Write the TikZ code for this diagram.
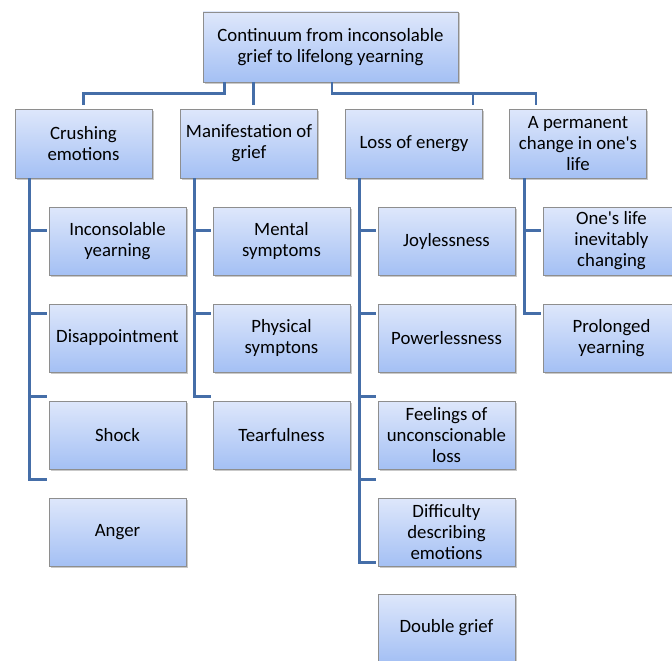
\documentclass[tikz,border=0pt]{standalone}
\usepackage{fontspec}
\setmainfont{Carlito}
\usepackage{tikz}
\usetikzlibrary{positioning,shadows}

\definecolor{boxtop}{HTML}{DEE7FB}
\definecolor{boxbottom}{HTML}{A4C0F4}
\definecolor{boxline}{HTML}{8E8E8E}
\definecolor{linkblue}{HTML}{456EA8}

\begin{document}
\begin{tikzpicture}[x=1pt, y=-1pt,
    box/.style={rectangle, draw=boxline, line width=0.8pt, top color=boxtop, bottom color=boxbottom,
      minimum width=137pt, minimum height=68pt, align=center, inner sep=2pt,
      font=\fontsize{18.8}{21}\selectfont,
      drop shadow={shadow xshift=1.5pt, shadow yshift=-1.5pt, opacity=0.3, fill=black!70}},
    link/.style={draw=linkblue, line width=2.8pt}]
          \path[use as bounding box] (0,0) rectangle (672,661);
          \clip (0,0) rectangle (672,661);

          % top
          \node[box, minimum width=255pt, minimum height=70pt] (root) at (330.5, 47) {Continuum from inconsolable\\grief to lifelong yearning};

          % first row
          \node[box, minimum height=69pt] (crush) at (83.5, 143.5) {Crushing\\emotions};
          \node[box, minimum height=69pt] (manif) at (249, 143.5) {Manifestation of\\grief};
          \node[box, minimum height=69pt] (energy) at (414, 143.5) {Loss of energy};
          \node[box, minimum height=69pt] (change) at (578, 143.5) {A permanent\\change in one\textquotesingle s\\life};

          % under crushing emotions
          \node[box] (crushA) at (117.5, 241) {Inconsolable\\yearning};
          \node[box] (crushB) at (117.5, 338) {Disappointment};
          \node[box] (crushC) at (117.5, 435) {Shock};
          \node[box] (crushD) at (117.5, 532) {Anger};

          % under manifestation of grief
          \node[box] (manifA) at (281.5, 241) {Mental\\symptoms};
          \node[box] (manifB) at (281.5, 338) {Physical\\symptons};
          \node[box] (manifC) at (281.5, 435) {Tearfulness};

          % under loss of energy
          \node[box] (energyA) at (446.5, 241) {Joylessness};
          \node[box] (energyB) at (446.5, 338) {Powerlessness};
          \node[box] (energyC) at (446.5, 435) {Feelings of\\unconscionable\\loss};
          \node[box] (energyD) at (446.5, 532) {Difficulty\\describing\\emotions};
          \node[box] (energyE) at (446.5, 628) {Double grief};

          % under a permanent change
          \node[box] (changeA) at (611.5, 241) {One\textquotesingle s life\\inevitably\\changing};
          \node[box] (changeB) at (611.5, 338) {Prolonged\\yearning};

          % from the top box
          \draw[link, shorten >=4pt] ([xshift=22pt]root.south west) -- ++(0,11) -| (crush.north);
          \draw[link, shorten >=4pt] ([xshift=51pt]root.south west) coordinate (rootm) -- (rootm |- manif.north);
          \draw[link, shorten >=4pt] ([xshift=1.5pt]root.south) -- ++(0,11) -| ([xshift=59pt]energy.north);
          \draw[link, shorten >=4pt] ([xshift=1.5pt]root.south) -- ++(0,11) -| ([xshift=-42pt]change.north);

          \draw[link, shorten >=2pt] ([xshift=15pt]crush.south west) |- ([yshift=-24pt]crushA.north west);
          \draw[link, shorten >=2pt] ([xshift=15pt]crush.south west) |- ([yshift=-10pt]crushB.north west);
          \draw[link, shorten >=2pt] ([xshift=15pt]crush.south west) |- ([yshift=4pt]crushC.north west);
          \draw[link, shorten >=2pt] ([xshift=15pt]crush.south west) |- ([yshift=18pt]crushD.north west);

          \draw[link, shorten >=2pt] ([xshift=14pt]manif.south west) |- ([yshift=-24pt]manifA.north west);
          \draw[link, shorten >=2pt] ([xshift=14pt]manif.south west) |- ([yshift=-10pt]manifB.north west);
          \draw[link, shorten >=2pt] ([xshift=14pt]manif.south west) |- ([yshift=4pt]manifC.north west);

          \draw[link, shorten >=2pt] ([xshift=14pt]energy.south west) |- ([yshift=-24pt]energyA.north west);
          \draw[link, shorten >=2pt] ([xshift=14pt]energy.south west) |- ([yshift=-10pt]energyB.north west);
          \draw[link, shorten >=2pt] ([xshift=14pt]energy.south west) |- ([yshift=4pt]energyC.north west);
          \draw[link, shorten >=2pt] ([xshift=14pt]energy.south west) |- ([yshift=18pt]energyD.north west);
          \draw[link, shorten >=2pt] ([xshift=14pt]energy.south west) |- ([yshift=31pt]energyE.north west);

          \draw[link, shorten >=2pt] ([xshift=15pt]change.south west) |- ([yshift=-24pt]changeA.north west);
          \draw[link, shorten >=2pt] ([xshift=15pt]change.south west) |- ([yshift=-10pt]changeB.north west);
        \end{tikzpicture}
\end{document}
